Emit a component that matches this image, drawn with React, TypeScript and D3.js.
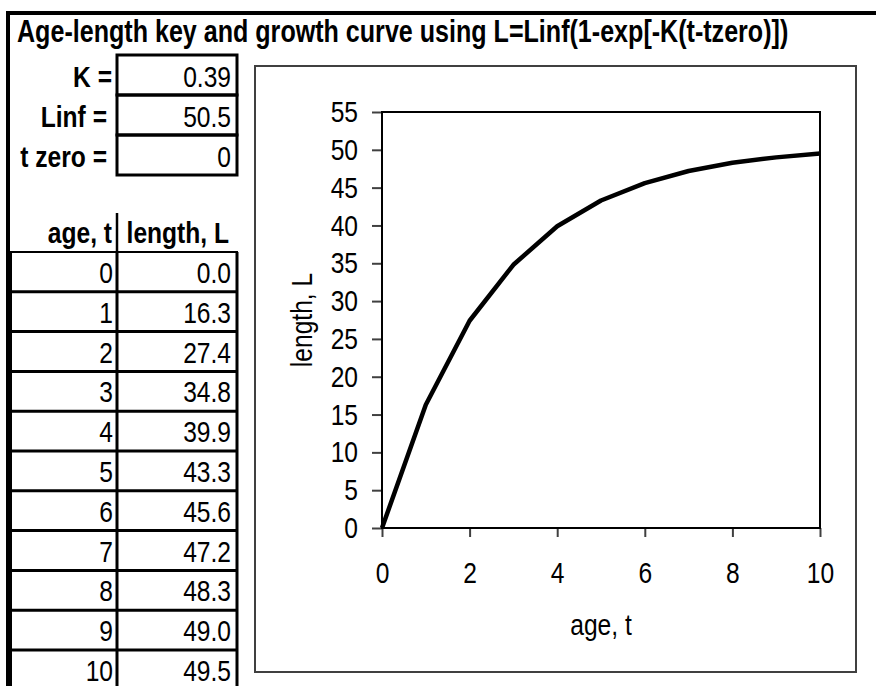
import React, { useEffect, useRef } from 'react';
import * as d3 from 'd3';

// parameters of the growth curve
const paramLabels = ['K =', 'Linf =', 't zero ='];
const paramValues = ['0.39', '50.5', '0'];

// age-length key
const ages = [0, 1, 2, 3, 4, 5, 6, 7, 8, 9, 10];
const lengths = [0.0, 16.3, 27.4, 34.8, 39.9, 43.3, 45.6, 47.2, 48.3, 49.0, 49.5];

const xTicks = [0, 2, 4, 6, 8, 10];
const yTicks = [0, 5, 10, 15, 20, 25, 30, 35, 40, 45, 50, 55];

const title = 'Age-length key and growth curve using L=Linf(1-exp[-K(t-tzero)])';
const FONT = '"Liberation Sans", Arial, sans-serif';
const NARROW = 0.82; // the sheet uses a narrow face, squeeze Liberation Sans

const App = () => {
  const svgRef = useRef(null);

  useEffect(() => {
    const width = 876;
    const height = 686;

    const svg = d3.select(svgRef.current);
    svg.selectAll('*').remove();
    svg.attr('width', width).attr('height', height);

    svg.append('rect').attr('width', width).attr('height', height).attr('fill', 'white');

    const cellText = (x, y, str, opts = {}) =>
      svg.append('text')
        .attr('transform', `translate(${x},${y}) ${opts.rotate ? 'rotate(-90)' : ''} scale(${NARROW},1)`)
        .attr('text-anchor', opts.anchor || 'end')
        .attr('font-family', FONT)
        .attr('font-size', opts.size || 30)
        .attr('font-weight', opts.bold ? 'bold' : 'normal')
        .text(str);

    // outer border of the sheet block
    svg.append('line').attr('x1', 6).attr('x2', width).attr('y1', 13).attr('y2', 13)
      .attr('stroke', 'black').attr('stroke-width', 4);
    svg.append('line').attr('x1', 8).attr('x2', 8).attr('y1', 11).attr('y2', height)
      .attr('stroke', 'black').attr('stroke-width', 4);

    cellText(17, 42, title, { anchor: 'start', bold: true, size: 30.6 });

    // parameter box
    const colL = 8, colM = 117, colR = 237;
    const pTop = 55, rowH = 40;
    paramLabels.forEach((lab, i) => {
      const top = pTop + i * rowH;
      svg.append('rect')
        .attr('x', colM).attr('y', top).attr('width', colR - colM).attr('height', rowH)
        .attr('fill', 'none').attr('stroke', 'black').attr('stroke-width', 3);
      cellText(i === 0 ? 112 : 107, top + 32, lab, { bold: true });
      cellText(231, top + 32, paramValues[i]);
    });

    // table header
    svg.append('line').attr('x1', colM).attr('x2', colM).attr('y1', 213).attr('y2', 252)
      .attr('stroke', 'black').attr('stroke-width', 2.5);
    svg.append('line').attr('x1', colL).attr('x2', colR + 1).attr('y1', 252).attr('y2', 252)
      .attr('stroke', 'black').attr('stroke-width', 2);
    cellText(112, 243, 'age, t', { bold: true });
    cellText(229, 243, 'length, L', { bold: true });

    // table rows
    const tTop = 252, tRowH = 39.8;
    ages.forEach((a, i) => {
      const top = tTop + i * tRowH;
      svg.append('line').attr('x1', colL).attr('x2', colR + 1).attr('y1', top + tRowH).attr('y2', top + tRowH)
        .attr('stroke', 'black').attr('stroke-width', 3);
      cellText(113, top + 31, String(a));
      cellText(231, top + 31, lengths[i].toFixed(1));
    });
    [colL + 2, colM, colR].forEach((cx) => {
      svg.append('line').attr('x1', cx).attr('x2', cx).attr('y1', tTop).attr('y2', height)
        .attr('stroke', 'black').attr('stroke-width', cx === colL + 2 ? 4 : 3);
    });

    // chart area
    svg.append('rect')
      .attr('x', 255).attr('y', 66).attr('width', 601).attr('height', 606)
      .attr('fill', 'white').attr('stroke', '#404040').attr('stroke-width', 2);

    const x = d3.scaleLinear().domain([0, 10]).range([382, 820]);
    const y = d3.scaleLinear().domain([0, 55]).range([528, 112]);

    const yAxis = svg.append('g')
      .attr('transform', `translate(${x(0)},0)`)
      .call(d3.axisLeft(y).tickValues(yTicks).tickSize(10).tickPadding(14));
    const xAxis = svg.append('g')
      .attr('transform', `translate(0,${y(0)})`)
      .call(d3.axisBottom(x).tickValues(xTicks).tickSize(9).tickPadding(25));
    [xAxis, yAxis].forEach((g) => {
      g.select('.domain').remove();
      g.selectAll('line').attr('stroke', '#404040').attr('stroke-width', 2);
      g.selectAll('text')
        .attr('font-family', FONT).attr('font-size', 30).attr('fill', 'black')
        .attr('transform', `scale(${NARROW},1)`);
    });
    yAxis.selectAll('text').attr('x', -24 / NARROW);

    svg.append('rect')
      .attr('x', x(0)).attr('y', y(55)).attr('width', x(10) - x(0)).attr('height', y(0) - y(55))
      .attr('fill', 'none').attr('stroke', 'black').attr('stroke-width', 2);

    const line = d3.line()
      .x((d, i) => x(ages[i]))
      .y((d) => y(d));
    svg.append('path')
      .datum(lengths)
      .attr('d', line)
      .attr('fill', 'none')
      .attr('stroke', 'black')
      .attr('stroke-width', 4.5)
      .attr('stroke-linejoin', 'round');

    cellText((x(0) + x(10)) / 2, 635, 'age, t', { anchor: 'middle' });
    cellText(312, (y(0) + y(55)) / 2, 'length, L', { anchor: 'middle', rotate: true });
  }, []);

  return (
    <svg ref={svgRef} style={{ position: 'absolute', left: 0, top: 0, display: 'block' }}></svg>
  );
};

export default App;
